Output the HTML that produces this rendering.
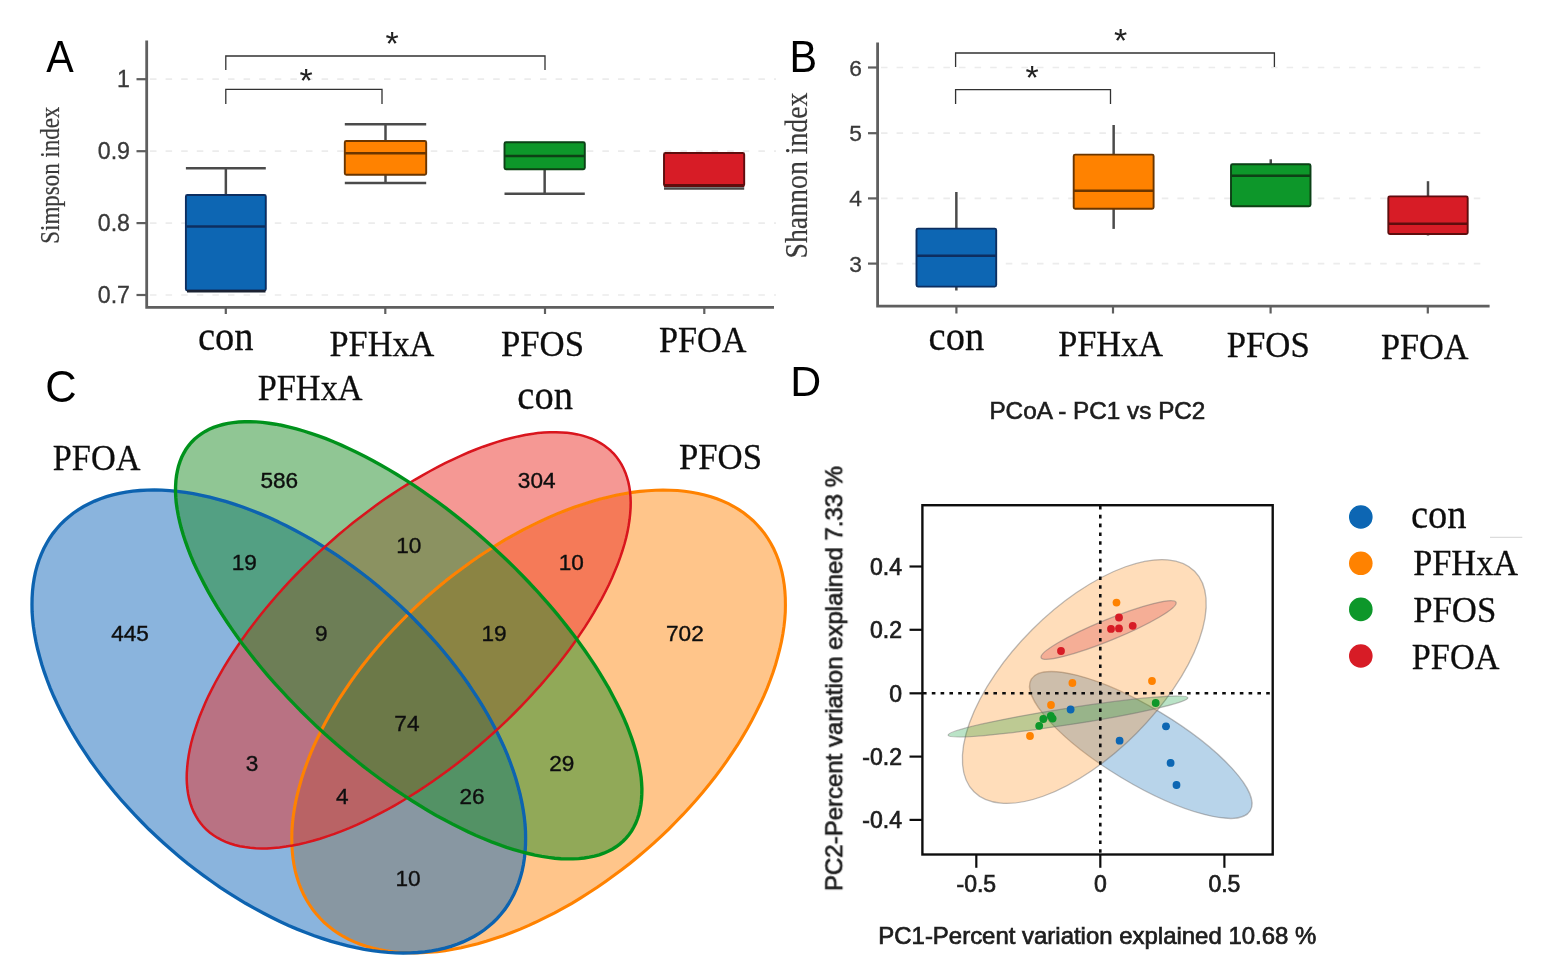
<!DOCTYPE html>
<html lang="en"><head><meta charset="utf-8"><title>Figure</title>
<style>
html,body{margin:0;padding:0;background:#fff;}
body{width:1552px;height:978px;overflow:hidden;}
svg{display:block;}
.serif{font-family:"Liberation Serif","Times New Roman",serif;}
.sans{font-family:"Liberation Sans",Arial,Helvetica,sans-serif;}
</style></head><body>
<svg width="1552" height="978" viewBox="0 0 1552 978">
<rect width="1552" height="978" fill="#fff"/>
<g filter="url(#soft)">

<!-- Panel A -->
<text class="sans" transform="translate(46.2 72.4) scale(0.915 1)" font-size="45" fill="#000">A</text>
<line x1="150" y1="79.2" x2="776" y2="79.2" stroke="#ececec" stroke-width="1.7" stroke-dasharray="6.5 9.1"/>
<line x1="150" y1="151.2" x2="776" y2="151.2" stroke="#ececec" stroke-width="1.7" stroke-dasharray="6.5 9.1"/>
<line x1="150" y1="223.1" x2="776" y2="223.1" stroke="#ececec" stroke-width="1.7" stroke-dasharray="6.5 9.1"/>
<line x1="150" y1="295" x2="776" y2="295" stroke="#ececec" stroke-width="1.7" stroke-dasharray="6.5 9.1"/>
<path d="M146.7 40.5V307.3H774" fill="none" stroke="#5e5e5e" stroke-width="2.8"/>
<line x1="136.5" y1="79.2" x2="147" y2="79.2" stroke="#5e5e5e" stroke-width="2.2"/>
<text class="sans" x="130" y="87.4" font-size="23.2" fill="#3a3a3a" text-anchor="end" stroke="#3a3a3a" stroke-width="0.3">1</text>
<line x1="136.5" y1="151.2" x2="147" y2="151.2" stroke="#5e5e5e" stroke-width="2.2"/>
<text class="sans" x="130" y="159.39999999999998" font-size="23.2" fill="#3a3a3a" text-anchor="end" stroke="#3a3a3a" stroke-width="0.3">0.9</text>
<line x1="136.5" y1="223.1" x2="147" y2="223.1" stroke="#5e5e5e" stroke-width="2.2"/>
<text class="sans" x="130" y="231.29999999999998" font-size="23.2" fill="#3a3a3a" text-anchor="end" stroke="#3a3a3a" stroke-width="0.3">0.8</text>
<line x1="136.5" y1="295" x2="147" y2="295" stroke="#5e5e5e" stroke-width="2.2"/>
<text class="sans" x="130" y="303.2" font-size="23.2" fill="#3a3a3a" text-anchor="end" stroke="#3a3a3a" stroke-width="0.3">0.7</text>
<line x1="225.8" y1="307" x2="225.8" y2="314" stroke="#5e5e5e" stroke-width="2.2"/>
<line x1="385.3" y1="307" x2="385.3" y2="314" stroke="#5e5e5e" stroke-width="2.2"/>
<line x1="545" y1="307" x2="545" y2="314" stroke="#5e5e5e" stroke-width="2.2"/>
<line x1="704.3" y1="307" x2="704.3" y2="314" stroke="#5e5e5e" stroke-width="2.2"/>
<text class="serif" x="58.6" y="243.7" font-size="28" fill="#3a3a3a" textLength="137" lengthAdjust="spacingAndGlyphs" transform="rotate(-90 58.6 243.7)" stroke="#3a3a3a" stroke-width="0.2">Simpson index</text>
<line x1="225.85000000000002" y1="168.3" x2="225.85000000000002" y2="195" stroke="#4c4c4c" stroke-width="2.5"/>
<line x1="185.9" y1="168.3" x2="265.8" y2="168.3" stroke="#4c4c4c" stroke-width="2.5"/>
<rect x="185.9" y="195" width="79.9" height="95.5" rx="1.5" fill="#0766b3" stroke="#0a2f60" stroke-width="1.9"/>
<line x1="185.9" y1="226.4" x2="265.8" y2="226.4" stroke="#0a2f60" stroke-width="2.5"/>
<line x1="187" y1="291.2" x2="265.5" y2="291.2" stroke="#1c2430" stroke-width="2.6"/>
<line x1="385.5" y1="124.2" x2="385.5" y2="141" stroke="#4c4c4c" stroke-width="2.5"/>
<line x1="344.8" y1="124.2" x2="426.2" y2="124.2" stroke="#4c4c4c" stroke-width="2.5"/>
<line x1="385.5" y1="174.7" x2="385.5" y2="183" stroke="#4c4c4c" stroke-width="2.5"/>
<line x1="344.8" y1="183" x2="426.2" y2="183" stroke="#4c4c4c" stroke-width="2.5"/>
<rect x="344.8" y="141" width="81.39999999999998" height="33.69999999999999" rx="1.5" fill="#ff8205" stroke="#6a3603" stroke-width="1.9"/>
<line x1="344.8" y1="153.2" x2="426.2" y2="153.2" stroke="#6a3603" stroke-width="2.5"/>
<line x1="544.65" y1="169.3" x2="544.65" y2="193.8" stroke="#4c4c4c" stroke-width="2.5"/>
<line x1="504.5" y1="193.8" x2="584.8" y2="193.8" stroke="#4c4c4c" stroke-width="2.5"/>
<rect x="504.5" y="142.3" width="80.29999999999995" height="27.0" rx="1.5" fill="#0a972a" stroke="#083f14" stroke-width="1.9"/>
<line x1="504.5" y1="156" x2="584.8" y2="156" stroke="#083f14" stroke-width="2.5"/>
<rect x="664" y="153" width="80.20000000000005" height="33" rx="1.5" fill="#d71a25" stroke="#5e0c11" stroke-width="1.9"/>
<line x1="664" y1="185.5" x2="744.2" y2="185.5" stroke="#5e0c11" stroke-width="3"/>
<line x1="664" y1="188.5" x2="744.2" y2="188.5" stroke="#4a4a4a" stroke-width="2.4"/>
<path d="M225.8 70V56H545V70" fill="none" stroke="#333" stroke-width="1.3"/>
<path d="M225.8 104V89.4H382V104" fill="none" stroke="#333" stroke-width="1.3"/>
<text class="sans" x="392" y="54.5" font-size="34" fill="#222" text-anchor="middle">*</text>
<text class="sans" x="306" y="91.5" font-size="34" fill="#222" text-anchor="middle">*</text>
<text class="serif" x="198" y="349.7" font-size="43" fill="#111" textLength="55.6" lengthAdjust="spacingAndGlyphs" stroke="#111" stroke-width="0.3">con</text>
<text class="serif" x="329.5" y="356" font-size="35" fill="#111" textLength="104.9" lengthAdjust="spacingAndGlyphs" stroke="#111" stroke-width="0.3">PFHxA</text>
<text class="serif" x="501" y="356" font-size="35" fill="#111" textLength="83.0" lengthAdjust="spacingAndGlyphs" stroke="#111" stroke-width="0.3">PFOS</text>
<text class="serif" x="659" y="352.3" font-size="35" fill="#111" textLength="87.6" lengthAdjust="spacingAndGlyphs" stroke="#111" stroke-width="0.3">PFOA</text>
<!-- Panel B -->
<text class="sans" transform="translate(789.4 72.3) scale(0.93 1)" font-size="44.5" fill="#000">B</text>
<line x1="881" y1="67.5" x2="1484" y2="67.5" stroke="#ececec" stroke-width="1.7" stroke-dasharray="6.5 9.1"/>
<line x1="881" y1="133.2" x2="1484" y2="133.2" stroke="#ececec" stroke-width="1.7" stroke-dasharray="6.5 9.1"/>
<line x1="881" y1="198.4" x2="1484" y2="198.4" stroke="#ececec" stroke-width="1.7" stroke-dasharray="6.5 9.1"/>
<line x1="881" y1="263.6" x2="1484" y2="263.6" stroke="#ececec" stroke-width="1.7" stroke-dasharray="6.5 9.1"/>
<path d="M877.6 42.5V306.2H1489.6" fill="none" stroke="#5e5e5e" stroke-width="2.8"/>
<line x1="868" y1="67.5" x2="877.8" y2="67.5" stroke="#5e5e5e" stroke-width="2.2"/>
<text class="sans" x="862" y="75.5" font-size="22.8" fill="#3a3a3a" text-anchor="end" stroke="#3a3a3a" stroke-width="0.3">6</text>
<line x1="868" y1="133.2" x2="877.8" y2="133.2" stroke="#5e5e5e" stroke-width="2.2"/>
<text class="sans" x="862" y="141.2" font-size="22.8" fill="#3a3a3a" text-anchor="end" stroke="#3a3a3a" stroke-width="0.3">5</text>
<line x1="868" y1="198.4" x2="877.8" y2="198.4" stroke="#5e5e5e" stroke-width="2.2"/>
<text class="sans" x="862" y="206.4" font-size="22.8" fill="#3a3a3a" text-anchor="end" stroke="#3a3a3a" stroke-width="0.3">4</text>
<line x1="868" y1="263.6" x2="877.8" y2="263.6" stroke="#5e5e5e" stroke-width="2.2"/>
<text class="sans" x="862" y="271.6" font-size="22.8" fill="#3a3a3a" text-anchor="end" stroke="#3a3a3a" stroke-width="0.3">3</text>
<line x1="956.4" y1="306" x2="956.4" y2="313.5" stroke="#5e5e5e" stroke-width="2.2"/>
<line x1="1113" y1="306" x2="1113" y2="313.5" stroke="#5e5e5e" stroke-width="2.2"/>
<line x1="1270.6" y1="306" x2="1270.6" y2="313.5" stroke="#5e5e5e" stroke-width="2.2"/>
<line x1="1427.8" y1="306" x2="1427.8" y2="313.5" stroke="#5e5e5e" stroke-width="2.2"/>
<text class="serif" x="807.3" y="258.5" font-size="30.5" fill="#3a3a3a" textLength="166" lengthAdjust="spacingAndGlyphs" transform="rotate(-90 807.3 258.5)" stroke="#3a3a3a" stroke-width="0.2">Shannon index</text>
<line x1="956.35" y1="192" x2="956.35" y2="228.6" stroke="#4c4c4c" stroke-width="2.5"/>
<line x1="956.35" y1="286.6" x2="956.35" y2="290.5" stroke="#4c4c4c" stroke-width="2.5"/>
<rect x="916.5" y="228.6" width="79.70000000000005" height="58.00000000000003" rx="1.5" fill="#0766b3" stroke="#0a2f60" stroke-width="1.9"/>
<line x1="916.5" y1="255.7" x2="996.2" y2="255.7" stroke="#0a2f60" stroke-width="2.5"/>
<line x1="1113.65" y1="125" x2="1113.65" y2="154.6" stroke="#4c4c4c" stroke-width="2.5"/>
<line x1="1113.65" y1="208.8" x2="1113.65" y2="228.9" stroke="#4c4c4c" stroke-width="2.5"/>
<rect x="1073.7" y="154.6" width="79.89999999999986" height="54.20000000000002" rx="1.5" fill="#ff8205" stroke="#6a3603" stroke-width="1.9"/>
<line x1="1073.7" y1="190.7" x2="1153.6" y2="190.7" stroke="#6a3603" stroke-width="2.5"/>
<line x1="1270.75" y1="159.3" x2="1270.75" y2="164.2" stroke="#4c4c4c" stroke-width="2.5"/>
<rect x="1231" y="164.2" width="79.5" height="42.0" rx="1.5" fill="#0a972a" stroke="#083f14" stroke-width="1.9"/>
<line x1="1231" y1="175.8" x2="1310.5" y2="175.8" stroke="#083f14" stroke-width="2.5"/>
<line x1="1428.0" y1="181.2" x2="1428.0" y2="196.4" stroke="#4c4c4c" stroke-width="2.5"/>
<line x1="1428.0" y1="234" x2="1428.0" y2="235.5" stroke="#4c4c4c" stroke-width="2.5"/>
<rect x="1388.3" y="196.4" width="79.40000000000009" height="37.599999999999994" rx="1.5" fill="#d71a25" stroke="#5e0c11" stroke-width="1.9"/>
<line x1="1388.3" y1="223.7" x2="1467.7" y2="223.7" stroke="#5e0c11" stroke-width="2.5"/>
<path d="M955.6 67V53H1274.4V67" fill="none" stroke="#333" stroke-width="1.3"/>
<path d="M955.6 104V89.7H1110.5V104" fill="none" stroke="#333" stroke-width="1.3"/>
<text class="sans" x="1120.6" y="51.5" font-size="34" fill="#222" text-anchor="middle">*</text>
<text class="sans" x="1032" y="89" font-size="34" fill="#222" text-anchor="middle">*</text>
<text class="serif" x="928.6" y="349.7" font-size="43" fill="#111" textLength="55.6" lengthAdjust="spacingAndGlyphs" stroke="#111" stroke-width="0.3">con</text>
<text class="serif" x="1058.2" y="356.2" font-size="35" fill="#111" textLength="104.9" lengthAdjust="spacingAndGlyphs" stroke="#111" stroke-width="0.3">PFHxA</text>
<text class="serif" x="1226.7" y="357" font-size="35" fill="#111" textLength="83.0" lengthAdjust="spacingAndGlyphs" stroke="#111" stroke-width="0.3">PFOS</text>
<text class="serif" x="1380.9" y="358.8" font-size="35" fill="#111" textLength="87.6" lengthAdjust="spacingAndGlyphs" stroke="#111" stroke-width="0.3">PFOA</text>
<!-- Panel C -->
<text class="sans" transform="translate(45.3 401.5) scale(1.0 1)" font-size="43.5" fill="#000">C</text>
<path d="M752.9 520.5L748.5 516.7L743.9 513.0L738.9 509.6L733.8 506.5L728.4 503.7L722.8 501.1L716.9 498.7L710.9 496.7L704.6 494.9L698.1 493.4L691.4 492.2L684.6 491.2L677.5 490.5L670.3 490.2L663.0 490.0L655.5 490.2L647.8 490.7L640.0 491.4L632.1 492.4L624.1 493.7L615.9 495.3L607.7 497.2L599.4 499.3L591.0 501.7L582.5 504.4L574.0 507.3L565.5 510.5L556.9 513.9L548.3 517.6L539.7 521.6L531.1 525.8L522.5 530.2L513.9 534.9L505.3 539.7L496.8 544.9L488.4 550.2L479.9 555.7L471.6 561.5L463.4 567.4L455.2 573.5L447.1 579.8L439.2 586.3L431.4 592.9L423.7 599.7L416.1 606.7L408.7 613.7L401.5 621.0L394.4 628.3L387.5 635.8L380.8 643.3L374.2 651.0L367.9 658.7L361.8 666.5L355.9 674.4L350.2 682.3L344.8 690.3L339.5 698.3L334.6 706.4L329.8 714.5L325.4 722.5L321.2 730.6L317.2 738.7L313.5 746.7L310.1 754.7L307.0 762.7L304.2 770.6L301.6 778.5L299.4 786.3L297.4 794.0L295.7 801.6L294.3 809.2L293.2 816.6L292.4 823.9L291.9 831.1L291.8 838.1L291.9 845.0L292.3 851.8L293.0 858.4L294.0 864.8L295.3 871.1L296.9 877.1L298.8 883.0L301.0 888.7L303.5 894.2L306.3 899.5L309.3 904.5L312.6 909.4L316.3 914.0L320.1 918.3L324.3 922.5L328.7 926.3L333.3 930.0L338.3 933.4L343.4 936.5L348.8 939.3L354.4 941.9L360.3 944.3L366.3 946.3L372.6 948.1L379.1 949.6L385.8 950.8L392.6 951.8L399.7 952.5L406.9 952.8L414.2 953.0L421.7 952.8L429.4 952.3L437.2 951.6L445.1 950.6L453.1 949.3L461.3 947.7L469.5 945.8L477.8 943.7L486.2 941.3L494.7 938.6L503.2 935.7L511.7 932.5L520.3 929.1L528.9 925.4L537.5 921.4L546.1 917.2L554.7 912.8L563.3 908.1L571.9 903.3L580.4 898.1L588.8 892.8L597.3 887.3L605.6 881.5L613.8 875.6L622.0 869.5L630.1 863.2L638.0 856.7L645.8 850.1L653.5 843.3L661.1 836.3L668.5 829.3L675.7 822.0L682.8 814.7L689.7 807.2L696.4 799.7L703.0 792.0L709.3 784.3L715.4 776.5L721.3 768.6L727.0 760.7L732.4 752.7L737.7 744.7L742.6 736.6L747.4 728.5L751.8 720.5L756.0 712.4L760.0 704.3L763.7 696.3L767.1 688.3L770.2 680.3L773.0 672.4L775.6 664.5L777.8 656.7L779.8 649.0L781.5 641.4L782.9 633.8L784.0 626.4L784.8 619.1L785.3 611.9L785.4 604.9L785.3 598.0L784.9 591.2L784.2 584.6L783.2 578.2L781.9 571.9L780.3 565.9L778.4 560.0L776.2 554.3L773.7 548.8L770.9 543.5L767.9 538.5L764.6 533.6L760.9 529.0L757.1 524.7Z" fill="#ff8b13" fill-opacity="0.5"/>
<path d="M493.1 922.5L497.3 918.3L501.1 914.0L504.8 909.4L508.1 904.5L511.1 899.5L513.9 894.2L516.4 888.7L518.6 883.0L520.5 877.1L522.1 871.1L523.4 864.8L524.4 858.4L525.1 851.8L525.5 845.0L525.6 838.1L525.5 831.1L525.0 823.9L524.2 816.6L523.1 809.2L521.7 801.6L520.0 794.0L518.0 786.3L515.8 778.5L513.2 770.6L510.4 762.7L507.3 754.7L503.9 746.7L500.2 738.7L496.2 730.6L492.0 722.5L487.6 714.5L482.8 706.4L477.9 698.3L472.6 690.3L467.2 682.3L461.5 674.4L455.6 666.5L449.5 658.7L443.2 651.0L436.6 643.3L429.9 635.8L423.0 628.3L415.9 621.0L408.7 613.7L401.3 606.7L393.7 599.7L386.0 592.9L378.2 586.3L370.3 579.8L362.2 573.5L354.0 567.4L345.8 561.5L337.5 555.7L329.0 550.2L320.6 544.9L312.1 539.7L303.5 534.9L294.9 530.2L286.3 525.8L277.7 521.6L269.1 517.6L260.5 513.9L251.9 510.5L243.4 507.3L234.9 504.4L226.4 501.7L218.0 499.3L209.7 497.2L201.5 495.3L193.3 493.7L185.3 492.4L177.4 491.4L169.6 490.7L161.9 490.2L154.4 490.0L147.1 490.2L139.9 490.5L132.8 491.2L126.0 492.2L119.3 493.4L112.8 494.9L106.5 496.7L100.5 498.7L94.6 501.1L89.0 503.7L83.6 506.5L78.5 509.6L73.5 513.0L68.9 516.7L64.5 520.5L60.3 524.7L56.5 529.0L52.8 533.6L49.5 538.5L46.5 543.5L43.7 548.8L41.2 554.3L39.0 560.0L37.1 565.9L35.5 571.9L34.2 578.2L33.2 584.6L32.5 591.2L32.1 598.0L32.0 604.9L32.1 611.9L32.6 619.1L33.4 626.4L34.5 633.8L35.9 641.4L37.6 649.0L39.6 656.7L41.8 664.5L44.4 672.4L47.2 680.3L50.3 688.3L53.7 696.3L57.4 704.3L61.4 712.4L65.6 720.5L70.0 728.5L74.8 736.6L79.7 744.7L85.0 752.7L90.4 760.7L96.1 768.6L102.0 776.5L108.1 784.3L114.4 792.0L121.0 799.7L127.7 807.2L134.6 814.7L141.7 822.0L148.9 829.3L156.3 836.3L163.9 843.3L171.6 850.1L179.4 856.7L187.3 863.2L195.4 869.5L203.6 875.6L211.8 881.5L220.1 887.3L228.6 892.8L237.0 898.1L245.5 903.3L254.1 908.1L262.7 912.8L271.3 917.2L279.9 921.4L288.5 925.4L297.1 929.1L305.7 932.5L314.2 935.7L322.7 938.6L331.2 941.3L339.6 943.7L347.9 945.8L356.1 947.7L364.3 949.3L372.3 950.6L380.2 951.6L388.0 952.3L395.7 952.8L403.2 953.0L410.5 952.8L417.7 952.5L424.8 951.8L431.6 950.8L438.3 949.6L444.8 948.1L451.1 946.3L457.1 944.3L463.0 941.9L468.6 939.3L474.0 936.5L479.1 933.4L484.1 930.0L488.7 926.3Z" fill="#1269bb" fill-opacity="0.5"/>
<path d="M610.8 450.8L607.4 447.9L603.9 445.3L600.1 442.9L596.0 440.7L591.8 438.7L587.3 437.1L582.6 435.6L577.6 434.4L572.5 433.5L567.2 432.8L561.7 432.4L555.9 432.2L550.1 432.2L544.0 432.6L537.8 433.1L531.4 434.0L524.9 435.1L518.2 436.4L511.4 438.0L504.5 439.8L497.4 441.9L490.3 444.2L483.0 446.7L475.7 449.5L468.2 452.5L460.7 455.8L453.2 459.3L445.6 462.9L437.9 466.9L430.2 471.0L422.5 475.3L414.7 479.8L407.0 484.6L399.2 489.5L391.5 494.6L383.8 499.8L376.1 505.3L368.5 510.9L360.9 516.7L353.3 522.6L345.9 528.6L338.5 534.8L331.2 541.2L324.0 547.6L316.8 554.2L309.9 560.8L303.0 567.6L296.2 574.5L289.6 581.4L283.2 588.4L276.8 595.5L270.7 602.6L264.7 609.7L258.9 616.9L253.3 624.2L247.8 631.4L242.6 638.7L237.6 646.0L232.7 653.2L228.1 660.5L223.7 667.7L219.6 674.9L215.6 682.0L211.9 689.1L208.4 696.1L205.2 703.1L202.3 710.0L199.5 716.8L197.1 723.5L194.9 730.1L192.9 736.6L191.2 743.0L189.8 749.2L188.7 755.3L187.8 761.3L187.2 767.2L186.8 772.8L186.7 778.4L186.9 783.7L187.4 788.9L188.1 793.9L189.1 798.7L190.4 803.3L191.9 807.7L193.7 811.9L195.8 815.9L198.1 819.7L200.7 823.3L203.5 826.7L206.6 829.8L210.0 832.7L213.5 835.3L217.3 837.7L221.4 839.9L225.6 841.9L230.1 843.5L234.8 845.0L239.8 846.2L244.9 847.1L250.2 847.8L255.7 848.2L261.5 848.4L267.3 848.4L273.4 848.0L279.6 847.5L286.0 846.6L292.5 845.5L299.2 844.2L306.0 842.6L312.9 840.8L320.0 838.7L327.1 836.4L334.4 833.9L341.7 831.1L349.2 828.1L356.7 824.8L364.2 821.3L371.8 817.7L379.5 813.7L387.2 809.6L394.9 805.3L402.7 800.8L410.4 796.0L418.2 791.1L425.9 786.0L433.6 780.8L441.3 775.3L448.9 769.7L456.5 763.9L464.1 758.0L471.5 752.0L478.9 745.8L486.2 739.4L493.4 733.0L500.6 726.4L507.5 719.8L514.4 713.0L521.2 706.1L527.8 699.2L534.2 692.2L540.6 685.1L546.7 678.0L552.7 670.9L558.5 663.7L564.1 656.4L569.6 649.2L574.8 641.9L579.8 634.6L584.7 627.4L589.3 620.1L593.7 612.9L597.8 605.7L601.8 598.6L605.5 591.5L609.0 584.5L612.2 577.5L615.1 570.6L617.9 563.8L620.3 557.1L622.5 550.5L624.5 544.0L626.2 537.6L627.6 531.4L628.7 525.3L629.6 519.3L630.2 513.4L630.6 507.8L630.7 502.2L630.5 496.9L630.0 491.7L629.3 486.7L628.3 481.9L627.0 477.3L625.5 472.9L623.7 468.7L621.6 464.7L619.3 460.9L616.7 457.3L613.9 453.9Z" fill="#eb3129" fill-opacity="0.5"/>
<path d="M623.0 841.3L626.1 838.1L628.9 834.8L631.5 831.2L633.7 827.3L635.7 823.3L637.4 819.0L638.9 814.5L640.0 809.7L640.9 804.8L641.5 799.7L641.8 794.4L641.9 788.9L641.6 783.2L641.1 777.3L640.2 771.3L639.1 765.1L637.7 758.7L636.1 752.3L634.1 745.6L631.9 738.9L629.4 732.0L626.7 725.0L623.7 717.9L620.4 710.8L616.8 703.5L613.0 696.2L609.0 688.7L604.7 681.3L600.2 673.8L595.4 666.2L590.4 658.6L585.2 651.0L579.8 643.4L574.2 635.7L568.3 628.1L562.3 620.5L556.1 612.9L549.7 605.3L543.1 597.8L536.4 590.4L529.5 583.0L522.5 575.7L515.3 568.4L508.0 561.2L500.6 554.2L493.0 547.2L485.4 540.4L477.6 533.6L469.8 527.0L461.9 520.6L454.0 514.3L446.0 508.1L437.9 502.1L429.8 496.3L421.7 490.6L413.6 485.2L405.4 479.9L397.3 474.8L389.2 469.9L381.1 465.2L373.0 460.8L365.0 456.5L357.0 452.5L349.1 448.7L341.3 445.1L333.5 441.8L325.9 438.7L318.3 435.9L310.9 433.3L303.6 431.0L296.4 428.9L289.3 427.1L282.4 425.5L275.6 424.2L269.0 423.2L262.6 422.4L256.3 421.9L250.3 421.7L244.4 421.7L238.7 422.0L233.2 422.6L228.0 423.4L223.0 424.5L218.2 425.8L213.6 427.4L209.2 429.3L205.2 431.4L201.3 433.8L197.7 436.5L194.4 439.3L191.3 442.5L188.5 445.8L185.9 449.4L183.7 453.3L181.7 457.3L180.0 461.6L178.5 466.1L177.4 470.9L176.5 475.8L175.9 480.9L175.6 486.2L175.5 491.7L175.8 497.4L176.3 503.3L177.2 509.3L178.3 515.5L179.7 521.9L181.3 528.3L183.3 535.0L185.5 541.7L188.0 548.6L190.7 555.6L193.7 562.7L197.0 569.8L200.6 577.1L204.4 584.4L208.4 591.9L212.7 599.3L217.2 606.8L222.0 614.4L227.0 622.0L232.2 629.6L237.6 637.2L243.2 644.9L249.1 652.5L255.1 660.1L261.3 667.7L267.7 675.3L274.3 682.8L281.0 690.2L287.9 697.6L294.9 704.9L302.1 712.2L309.4 719.4L316.8 726.4L324.4 733.4L332.0 740.2L339.8 747.0L347.6 753.6L355.5 760.0L363.4 766.3L371.4 772.5L379.5 778.5L387.6 784.3L395.7 790.0L403.8 795.4L412.0 800.7L420.1 805.8L428.2 810.7L436.3 815.4L444.4 819.8L452.4 824.1L460.4 828.1L468.3 831.9L476.1 835.5L483.9 838.8L491.5 841.9L499.1 844.7L506.5 847.3L513.8 849.6L521.0 851.7L528.1 853.5L535.0 855.1L541.8 856.4L548.4 857.4L554.8 858.2L561.1 858.7L567.1 858.9L573.0 858.9L578.7 858.6L584.2 858.0L589.4 857.2L594.4 856.1L599.2 854.8L603.8 853.2L608.2 851.3L612.2 849.2L616.1 846.8L619.7 844.1Z" fill="#218d2b" fill-opacity="0.5"/>
<path d="M752.9 520.5L748.5 516.7L743.9 513.0L738.9 509.6L733.8 506.5L728.4 503.7L722.8 501.1L716.9 498.7L710.9 496.7L704.6 494.9L698.1 493.4L691.4 492.2L684.6 491.2L677.5 490.5L670.3 490.2L663.0 490.0L655.5 490.2L647.8 490.7L640.0 491.4L632.1 492.4L624.1 493.7L615.9 495.3L607.7 497.2L599.4 499.3L591.0 501.7L582.5 504.4L574.0 507.3L565.5 510.5L556.9 513.9L548.3 517.6L539.7 521.6L531.1 525.8L522.5 530.2L513.9 534.9L505.3 539.7L496.8 544.9L488.4 550.2L479.9 555.7L471.6 561.5L463.4 567.4L455.2 573.5L447.1 579.8L439.2 586.3L431.4 592.9L423.7 599.7L416.1 606.7L408.7 613.7L401.5 621.0L394.4 628.3L387.5 635.8L380.8 643.3L374.2 651.0L367.9 658.7L361.8 666.5L355.9 674.4L350.2 682.3L344.8 690.3L339.5 698.3L334.6 706.4L329.8 714.5L325.4 722.5L321.2 730.6L317.2 738.7L313.5 746.7L310.1 754.7L307.0 762.7L304.2 770.6L301.6 778.5L299.4 786.3L297.4 794.0L295.7 801.6L294.3 809.2L293.2 816.6L292.4 823.9L291.9 831.1L291.8 838.1L291.9 845.0L292.3 851.8L293.0 858.4L294.0 864.8L295.3 871.1L296.9 877.1L298.8 883.0L301.0 888.7L303.5 894.2L306.3 899.5L309.3 904.5L312.6 909.4L316.3 914.0L320.1 918.3L324.3 922.5L328.7 926.3L333.3 930.0L338.3 933.4L343.4 936.5L348.8 939.3L354.4 941.9L360.3 944.3L366.3 946.3L372.6 948.1L379.1 949.6L385.8 950.8L392.6 951.8L399.7 952.5L406.9 952.8L414.2 953.0L421.7 952.8L429.4 952.3L437.2 951.6L445.1 950.6L453.1 949.3L461.3 947.7L469.5 945.8L477.8 943.7L486.2 941.3L494.7 938.6L503.2 935.7L511.7 932.5L520.3 929.1L528.9 925.4L537.5 921.4L546.1 917.2L554.7 912.8L563.3 908.1L571.9 903.3L580.4 898.1L588.8 892.8L597.3 887.3L605.6 881.5L613.8 875.6L622.0 869.5L630.1 863.2L638.0 856.7L645.8 850.1L653.5 843.3L661.1 836.3L668.5 829.3L675.7 822.0L682.8 814.7L689.7 807.2L696.4 799.7L703.0 792.0L709.3 784.3L715.4 776.5L721.3 768.6L727.0 760.7L732.4 752.7L737.7 744.7L742.6 736.6L747.4 728.5L751.8 720.5L756.0 712.4L760.0 704.3L763.7 696.3L767.1 688.3L770.2 680.3L773.0 672.4L775.6 664.5L777.8 656.7L779.8 649.0L781.5 641.4L782.9 633.8L784.0 626.4L784.8 619.1L785.3 611.9L785.4 604.9L785.3 598.0L784.9 591.2L784.2 584.6L783.2 578.2L781.9 571.9L780.3 565.9L778.4 560.0L776.2 554.3L773.7 548.8L770.9 543.5L767.9 538.5L764.6 533.6L760.9 529.0L757.1 524.7Z" fill="none" stroke="#ff8205" stroke-width="3.1"/>
<path d="M493.1 922.5L497.3 918.3L501.1 914.0L504.8 909.4L508.1 904.5L511.1 899.5L513.9 894.2L516.4 888.7L518.6 883.0L520.5 877.1L522.1 871.1L523.4 864.8L524.4 858.4L525.1 851.8L525.5 845.0L525.6 838.1L525.5 831.1L525.0 823.9L524.2 816.6L523.1 809.2L521.7 801.6L520.0 794.0L518.0 786.3L515.8 778.5L513.2 770.6L510.4 762.7L507.3 754.7L503.9 746.7L500.2 738.7L496.2 730.6L492.0 722.5L487.6 714.5L482.8 706.4L477.9 698.3L472.6 690.3L467.2 682.3L461.5 674.4L455.6 666.5L449.5 658.7L443.2 651.0L436.6 643.3L429.9 635.8L423.0 628.3L415.9 621.0L408.7 613.7L401.3 606.7L393.7 599.7L386.0 592.9L378.2 586.3L370.3 579.8L362.2 573.5L354.0 567.4L345.8 561.5L337.5 555.7L329.0 550.2L320.6 544.9L312.1 539.7L303.5 534.9L294.9 530.2L286.3 525.8L277.7 521.6L269.1 517.6L260.5 513.9L251.9 510.5L243.4 507.3L234.9 504.4L226.4 501.7L218.0 499.3L209.7 497.2L201.5 495.3L193.3 493.7L185.3 492.4L177.4 491.4L169.6 490.7L161.9 490.2L154.4 490.0L147.1 490.2L139.9 490.5L132.8 491.2L126.0 492.2L119.3 493.4L112.8 494.9L106.5 496.7L100.5 498.7L94.6 501.1L89.0 503.7L83.6 506.5L78.5 509.6L73.5 513.0L68.9 516.7L64.5 520.5L60.3 524.7L56.5 529.0L52.8 533.6L49.5 538.5L46.5 543.5L43.7 548.8L41.2 554.3L39.0 560.0L37.1 565.9L35.5 571.9L34.2 578.2L33.2 584.6L32.5 591.2L32.1 598.0L32.0 604.9L32.1 611.9L32.6 619.1L33.4 626.4L34.5 633.8L35.9 641.4L37.6 649.0L39.6 656.7L41.8 664.5L44.4 672.4L47.2 680.3L50.3 688.3L53.7 696.3L57.4 704.3L61.4 712.4L65.6 720.5L70.0 728.5L74.8 736.6L79.7 744.7L85.0 752.7L90.4 760.7L96.1 768.6L102.0 776.5L108.1 784.3L114.4 792.0L121.0 799.7L127.7 807.2L134.6 814.7L141.7 822.0L148.9 829.3L156.3 836.3L163.9 843.3L171.6 850.1L179.4 856.7L187.3 863.2L195.4 869.5L203.6 875.6L211.8 881.5L220.1 887.3L228.6 892.8L237.0 898.1L245.5 903.3L254.1 908.1L262.7 912.8L271.3 917.2L279.9 921.4L288.5 925.4L297.1 929.1L305.7 932.5L314.2 935.7L322.7 938.6L331.2 941.3L339.6 943.7L347.9 945.8L356.1 947.7L364.3 949.3L372.3 950.6L380.2 951.6L388.0 952.3L395.7 952.8L403.2 953.0L410.5 952.8L417.7 952.5L424.8 951.8L431.6 950.8L438.3 949.6L444.8 948.1L451.1 946.3L457.1 944.3L463.0 941.9L468.6 939.3L474.0 936.5L479.1 933.4L484.1 930.0L488.7 926.3Z" fill="none" stroke="#0a63b0" stroke-width="3.3"/>
<path d="M610.8 450.8L607.4 447.9L603.9 445.3L600.1 442.9L596.0 440.7L591.8 438.7L587.3 437.1L582.6 435.6L577.6 434.4L572.5 433.5L567.2 432.8L561.7 432.4L555.9 432.2L550.1 432.2L544.0 432.6L537.8 433.1L531.4 434.0L524.9 435.1L518.2 436.4L511.4 438.0L504.5 439.8L497.4 441.9L490.3 444.2L483.0 446.7L475.7 449.5L468.2 452.5L460.7 455.8L453.2 459.3L445.6 462.9L437.9 466.9L430.2 471.0L422.5 475.3L414.7 479.8L407.0 484.6L399.2 489.5L391.5 494.6L383.8 499.8L376.1 505.3L368.5 510.9L360.9 516.7L353.3 522.6L345.9 528.6L338.5 534.8L331.2 541.2L324.0 547.6L316.8 554.2L309.9 560.8L303.0 567.6L296.2 574.5L289.6 581.4L283.2 588.4L276.8 595.5L270.7 602.6L264.7 609.7L258.9 616.9L253.3 624.2L247.8 631.4L242.6 638.7L237.6 646.0L232.7 653.2L228.1 660.5L223.7 667.7L219.6 674.9L215.6 682.0L211.9 689.1L208.4 696.1L205.2 703.1L202.3 710.0L199.5 716.8L197.1 723.5L194.9 730.1L192.9 736.6L191.2 743.0L189.8 749.2L188.7 755.3L187.8 761.3L187.2 767.2L186.8 772.8L186.7 778.4L186.9 783.7L187.4 788.9L188.1 793.9L189.1 798.7L190.4 803.3L191.9 807.7L193.7 811.9L195.8 815.9L198.1 819.7L200.7 823.3L203.5 826.7L206.6 829.8L210.0 832.7L213.5 835.3L217.3 837.7L221.4 839.9L225.6 841.9L230.1 843.5L234.8 845.0L239.8 846.2L244.9 847.1L250.2 847.8L255.7 848.2L261.5 848.4L267.3 848.4L273.4 848.0L279.6 847.5L286.0 846.6L292.5 845.5L299.2 844.2L306.0 842.6L312.9 840.8L320.0 838.7L327.1 836.4L334.4 833.9L341.7 831.1L349.2 828.1L356.7 824.8L364.2 821.3L371.8 817.7L379.5 813.7L387.2 809.6L394.9 805.3L402.7 800.8L410.4 796.0L418.2 791.1L425.9 786.0L433.6 780.8L441.3 775.3L448.9 769.7L456.5 763.9L464.1 758.0L471.5 752.0L478.9 745.8L486.2 739.4L493.4 733.0L500.6 726.4L507.5 719.8L514.4 713.0L521.2 706.1L527.8 699.2L534.2 692.2L540.6 685.1L546.7 678.0L552.7 670.9L558.5 663.7L564.1 656.4L569.6 649.2L574.8 641.9L579.8 634.6L584.7 627.4L589.3 620.1L593.7 612.9L597.8 605.7L601.8 598.6L605.5 591.5L609.0 584.5L612.2 577.5L615.1 570.6L617.9 563.8L620.3 557.1L622.5 550.5L624.5 544.0L626.2 537.6L627.6 531.4L628.7 525.3L629.6 519.3L630.2 513.4L630.6 507.8L630.7 502.2L630.5 496.9L630.0 491.7L629.3 486.7L628.3 481.9L627.0 477.3L625.5 472.9L623.7 468.7L621.6 464.7L619.3 460.9L616.7 457.3L613.9 453.9Z" fill="none" stroke="#d9121f" stroke-width="2.5"/>
<path d="M623.0 841.3L626.1 838.1L628.9 834.8L631.5 831.2L633.7 827.3L635.7 823.3L637.4 819.0L638.9 814.5L640.0 809.7L640.9 804.8L641.5 799.7L641.8 794.4L641.9 788.9L641.6 783.2L641.1 777.3L640.2 771.3L639.1 765.1L637.7 758.7L636.1 752.3L634.1 745.6L631.9 738.9L629.4 732.0L626.7 725.0L623.7 717.9L620.4 710.8L616.8 703.5L613.0 696.2L609.0 688.7L604.7 681.3L600.2 673.8L595.4 666.2L590.4 658.6L585.2 651.0L579.8 643.4L574.2 635.7L568.3 628.1L562.3 620.5L556.1 612.9L549.7 605.3L543.1 597.8L536.4 590.4L529.5 583.0L522.5 575.7L515.3 568.4L508.0 561.2L500.6 554.2L493.0 547.2L485.4 540.4L477.6 533.6L469.8 527.0L461.9 520.6L454.0 514.3L446.0 508.1L437.9 502.1L429.8 496.3L421.7 490.6L413.6 485.2L405.4 479.9L397.3 474.8L389.2 469.9L381.1 465.2L373.0 460.8L365.0 456.5L357.0 452.5L349.1 448.7L341.3 445.1L333.5 441.8L325.9 438.7L318.3 435.9L310.9 433.3L303.6 431.0L296.4 428.9L289.3 427.1L282.4 425.5L275.6 424.2L269.0 423.2L262.6 422.4L256.3 421.9L250.3 421.7L244.4 421.7L238.7 422.0L233.2 422.6L228.0 423.4L223.0 424.5L218.2 425.8L213.6 427.4L209.2 429.3L205.2 431.4L201.3 433.8L197.7 436.5L194.4 439.3L191.3 442.5L188.5 445.8L185.9 449.4L183.7 453.3L181.7 457.3L180.0 461.6L178.5 466.1L177.4 470.9L176.5 475.8L175.9 480.9L175.6 486.2L175.5 491.7L175.8 497.4L176.3 503.3L177.2 509.3L178.3 515.5L179.7 521.9L181.3 528.3L183.3 535.0L185.5 541.7L188.0 548.6L190.7 555.6L193.7 562.7L197.0 569.8L200.6 577.1L204.4 584.4L208.4 591.9L212.7 599.3L217.2 606.8L222.0 614.4L227.0 622.0L232.2 629.6L237.6 637.2L243.2 644.9L249.1 652.5L255.1 660.1L261.3 667.7L267.7 675.3L274.3 682.8L281.0 690.2L287.9 697.6L294.9 704.9L302.1 712.2L309.4 719.4L316.8 726.4L324.4 733.4L332.0 740.2L339.8 747.0L347.6 753.6L355.5 760.0L363.4 766.3L371.4 772.5L379.5 778.5L387.6 784.3L395.7 790.0L403.8 795.4L412.0 800.7L420.1 805.8L428.2 810.7L436.3 815.4L444.4 819.8L452.4 824.1L460.4 828.1L468.3 831.9L476.1 835.5L483.9 838.8L491.5 841.9L499.1 844.7L506.5 847.3L513.8 849.6L521.0 851.7L528.1 853.5L535.0 855.1L541.8 856.4L548.4 857.4L554.8 858.2L561.1 858.7L567.1 858.9L573.0 858.9L578.7 858.6L584.2 858.0L589.4 857.2L594.4 856.1L599.2 854.8L603.8 853.2L608.2 851.3L612.2 849.2L616.1 846.8L619.7 844.1Z" fill="none" stroke="#06921c" stroke-width="3.4"/>
<text class="sans" x="279.3" y="487.6" font-size="22.6" fill="#111" text-anchor="middle" stroke="#111" stroke-width="0.4">586</text>
<text class="sans" x="536.6999999999999" y="487.6" font-size="22.6" fill="#111" text-anchor="middle" stroke="#111" stroke-width="0.4">304</text>
<text class="sans" x="244.3" y="569.6" font-size="22.6" fill="#111" text-anchor="middle" stroke="#111" stroke-width="0.4">19</text>
<text class="sans" x="408.8" y="552.6" font-size="22.6" fill="#111" text-anchor="middle" stroke="#111" stroke-width="0.4">10</text>
<text class="sans" x="571.3" y="569.6" font-size="22.6" fill="#111" text-anchor="middle" stroke="#111" stroke-width="0.4">10</text>
<text class="sans" x="130.10000000000002" y="641.2" font-size="22.6" fill="#111" text-anchor="middle" stroke="#111" stroke-width="0.4">445</text>
<text class="sans" x="321.3" y="641.2" font-size="22.6" fill="#111" text-anchor="middle" stroke="#111" stroke-width="0.4">9</text>
<text class="sans" x="494.1" y="641.2" font-size="22.6" fill="#111" text-anchor="middle" stroke="#111" stroke-width="0.4">19</text>
<text class="sans" x="684.9" y="641.2" font-size="22.6" fill="#111" text-anchor="middle" stroke="#111" stroke-width="0.4">702</text>
<text class="sans" x="406.90000000000003" y="731.0" font-size="22.6" fill="#111" text-anchor="middle" stroke="#111" stroke-width="0.4">74</text>
<text class="sans" x="252.10000000000002" y="770.6" font-size="22.6" fill="#111" text-anchor="middle" stroke="#111" stroke-width="0.4">3</text>
<text class="sans" x="561.6999999999999" y="770.6" font-size="22.6" fill="#111" text-anchor="middle" stroke="#111" stroke-width="0.4">29</text>
<text class="sans" x="342.3" y="803.6" font-size="22.6" fill="#111" text-anchor="middle" stroke="#111" stroke-width="0.4">4</text>
<text class="sans" x="472.0" y="803.6" font-size="22.6" fill="#111" text-anchor="middle" stroke="#111" stroke-width="0.4">26</text>
<text class="sans" x="408.1" y="885.6" font-size="22.6" fill="#111" text-anchor="middle" stroke="#111" stroke-width="0.4">10</text>
<text class="serif" x="52.8" y="469.5" font-size="35" fill="#111" textLength="87.6" lengthAdjust="spacingAndGlyphs" stroke="#111" stroke-width="0.3">PFOA</text>
<text class="serif" x="257.7" y="400" font-size="35" fill="#111" textLength="104.9" lengthAdjust="spacingAndGlyphs" stroke="#111" stroke-width="0.3">PFHxA</text>
<text class="serif" x="517.3" y="409" font-size="43" fill="#111" textLength="55.6" lengthAdjust="spacingAndGlyphs" stroke="#111" stroke-width="0.3">con</text>
<text class="serif" x="679" y="469" font-size="35" fill="#111" textLength="83.0" lengthAdjust="spacingAndGlyphs" stroke="#111" stroke-width="0.3">PFOS</text>
<!-- Panel D -->
<text class="sans" transform="translate(790.3 396.2) scale(0.99 1)" font-size="43.3" fill="#000">D</text>
<text class="sans" x="989.4" y="418.7" font-size="24" fill="#1c1c1c" textLength="216" lengthAdjust="spacingAndGlyphs" stroke="#1c1c1c" stroke-width="0.6">PCoA - PC1 vs PC2</text>
<ellipse cx="1140.8" cy="744.9" rx="127.7" ry="38" transform="rotate(31 1140.8 744.9)" fill="#0766b3" fill-opacity="0.28" stroke="#6b6b6b" stroke-opacity="0.45" stroke-width="1.3"/>
<ellipse cx="1084.3" cy="681.5" rx="156" ry="73.5" transform="rotate(-45 1084.3 681.5)" fill="#ff8205" fill-opacity="0.27" stroke="#6b6b6b" stroke-opacity="0.45" stroke-width="1.3"/>
<ellipse cx="1068" cy="716.5" rx="121.3" ry="8.3" transform="rotate(-8.9 1068 716.5)" fill="#0a972a" fill-opacity="0.27" stroke="#6b6b6b" stroke-opacity="0.45" stroke-width="1.3"/>
<ellipse cx="1108.6" cy="630" rx="72.9" ry="10.5" transform="rotate(-22.3 1108.6 630)" fill="#d71a25" fill-opacity="0.25" stroke="#6b6b6b" stroke-opacity="0.45" stroke-width="1.3"/>
<line x1="1100.3" y1="506" x2="1100.3" y2="854" stroke="#111" stroke-width="2.6" stroke-dasharray="3.6 5.2"/>
<line x1="923" y1="693.3" x2="1272" y2="693.3" stroke="#111" stroke-width="2.6" stroke-dasharray="3.6 5.2"/>
<circle cx="1116.5" cy="602.6" r="3.9" fill="#ff8205"/>
<circle cx="1072.4" cy="683" r="3.9" fill="#ff8205"/>
<circle cx="1152" cy="681" r="3.9" fill="#ff8205"/>
<circle cx="1051" cy="705" r="3.9" fill="#ff8205"/>
<circle cx="1030" cy="736" r="3.9" fill="#ff8205"/>
<circle cx="1119" cy="617.5" r="3.9" fill="#d71a25"/>
<circle cx="1111" cy="628.9" r="3.9" fill="#d71a25"/>
<circle cx="1119" cy="628.4" r="3.9" fill="#d71a25"/>
<circle cx="1132.7" cy="625.8" r="3.9" fill="#d71a25"/>
<circle cx="1061" cy="651" r="3.9" fill="#d71a25"/>
<circle cx="1155.7" cy="703" r="3.9" fill="#0a972a"/>
<circle cx="1039.2" cy="725.8" r="3.9" fill="#0a972a"/>
<circle cx="1043.3" cy="719" r="3.9" fill="#0a972a"/>
<circle cx="1050.8" cy="716" r="3.9" fill="#0a972a"/>
<circle cx="1052.6" cy="718.6" r="3.9" fill="#0a972a"/>
<circle cx="1070.6" cy="709.5" r="3.9" fill="#0766b3"/>
<circle cx="1119.6" cy="740.7" r="3.9" fill="#0766b3"/>
<circle cx="1166" cy="726.3" r="3.9" fill="#0766b3"/>
<circle cx="1170.6" cy="762.9" r="3.9" fill="#0766b3"/>
<circle cx="1176.5" cy="785" r="3.9" fill="#0766b3"/>
<rect x="922.4" y="505.2" width="350.3" height="349.3" fill="none" stroke="#111" stroke-width="2.4"/>
<line x1="909.5" y1="566.5" x2="922.4" y2="566.5" stroke="#111" stroke-width="2.2"/>
<text class="sans" x="902" y="574.7" font-size="23" fill="#1c1c1c" text-anchor="end" stroke="#1c1c1c" stroke-width="0.7">0.4</text>
<line x1="909.5" y1="629.8" x2="922.4" y2="629.8" stroke="#111" stroke-width="2.2"/>
<text class="sans" x="902" y="638.0" font-size="23" fill="#1c1c1c" text-anchor="end" stroke="#1c1c1c" stroke-width="0.7">0.2</text>
<line x1="909.5" y1="693.3" x2="922.4" y2="693.3" stroke="#111" stroke-width="2.2"/>
<text class="sans" x="902" y="701.5" font-size="23" fill="#1c1c1c" text-anchor="end" stroke="#1c1c1c" stroke-width="0.7">0</text>
<line x1="909.5" y1="756.6" x2="922.4" y2="756.6" stroke="#111" stroke-width="2.2"/>
<text class="sans" x="902" y="764.8000000000001" font-size="23" fill="#1c1c1c" text-anchor="end" stroke="#1c1c1c" stroke-width="0.7">-0.2</text>
<line x1="909.5" y1="819.9" x2="922.4" y2="819.9" stroke="#111" stroke-width="2.2"/>
<text class="sans" x="902" y="828.1" font-size="23" fill="#1c1c1c" text-anchor="end" stroke="#1c1c1c" stroke-width="0.7">-0.4</text>
<line x1="976.3" y1="854.5" x2="976.3" y2="867.8" stroke="#111" stroke-width="2.2"/>
<text class="sans" x="976.3" y="892" font-size="23" fill="#1c1c1c" text-anchor="middle" stroke="#1c1c1c" stroke-width="0.7">-0.5</text>
<line x1="1100.3" y1="854.5" x2="1100.3" y2="867.8" stroke="#111" stroke-width="2.2"/>
<text class="sans" x="1100.3" y="892" font-size="23" fill="#1c1c1c" text-anchor="middle" stroke="#1c1c1c" stroke-width="0.7">0</text>
<line x1="1224.4" y1="854.5" x2="1224.4" y2="867.8" stroke="#111" stroke-width="2.2"/>
<text class="sans" x="1224.4" y="892" font-size="23" fill="#1c1c1c" text-anchor="middle" stroke="#1c1c1c" stroke-width="0.7">0.5</text>
<text class="sans" x="878.3" y="943.7" font-size="24" fill="#1c1c1c" textLength="438" lengthAdjust="spacingAndGlyphs" stroke="#1c1c1c" stroke-width="0.7">PC1-Percent variation explained 10.68 %</text>
<text class="sans" x="842.3" y="891" font-size="24" fill="#1c1c1c" textLength="425" lengthAdjust="spacingAndGlyphs" transform="rotate(-90 842.3 891)" stroke="#1c1c1c" stroke-width="0.7">PC2-Percent variation explained 7.33 %</text>
<circle cx="1360.8" cy="517" r="11.8" fill="#0766b3"/>
<circle cx="1360.8" cy="563.3" r="11.8" fill="#ff8205"/>
<circle cx="1360.8" cy="609.4" r="11.8" fill="#0a972a"/>
<circle cx="1360.8" cy="656" r="11.8" fill="#d71a25"/>
<text class="serif" x="1411" y="528.4" font-size="43" fill="#111" textLength="55.6" lengthAdjust="spacingAndGlyphs" stroke="#111" stroke-width="0.3">con</text>
<text class="serif" x="1413.2" y="575.2" font-size="35" fill="#111" textLength="104.9" lengthAdjust="spacingAndGlyphs" stroke="#111" stroke-width="0.3">PFHxA</text>
<text class="serif" x="1413.2" y="622.2" font-size="35" fill="#111" textLength="83.0" lengthAdjust="spacingAndGlyphs" stroke="#111" stroke-width="0.3">PFOS</text>
<text class="serif" x="1411.8" y="668.6" font-size="35" fill="#111" textLength="87.6" lengthAdjust="spacingAndGlyphs" stroke="#111" stroke-width="0.3">PFOA</text>
<line x1="1490" y1="537.4" x2="1522.3" y2="537.4" stroke="#dcdcdc" stroke-width="1.2"/>
</g>
<defs><filter id="soft" x="0" y="0" width="1552" height="978" filterUnits="userSpaceOnUse"><feGaussianBlur stdDeviation="0.55"/></filter></defs>
</svg></body></html>
